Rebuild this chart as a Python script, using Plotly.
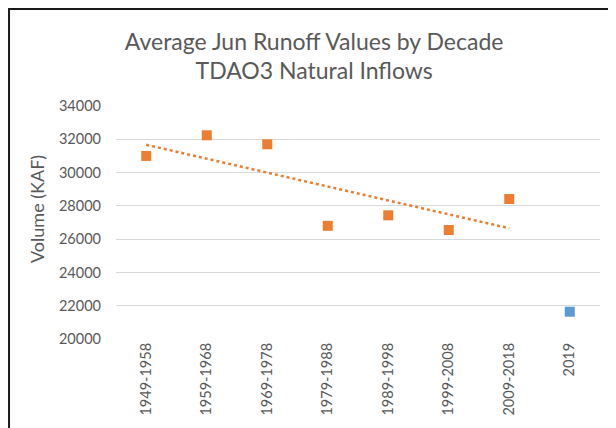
import numpy as np
import plotly.graph_objects as go

# values
decades = ["1949-1958", "1959-1968", "1969-1978", "1979-1988",
           "1989-1998", "1999-2008", "2009-2018"]
decade_avg = [31000, 32240, 31700, 26800, 27430, 26550, 28410]
recent_year = ["2019"]
recent_value = [21640]

orange = "#ED7D31"
blue = "#5B9BD5"
grey_txt = "#595959"
font_name = "Lato"

# linear trendline over the decade averages (like Excel's trendline)
idx = np.arange(len(decades))
slope, icept = np.polyfit(idx, decade_avg, 1)
trend = slope * idx + icept

fig = go.Figure()
fig.add_trace(go.Scatter(
    x=decades, y=decade_avg, mode="markers",
    marker=dict(symbol="square", size=10, color=orange, line=dict(width=0)),
    showlegend=False,
))
fig.add_trace(go.Scatter(
    x=decades, y=trend, mode="lines",
    line=dict(color=orange, width=2.5, dash="dot"),
    showlegend=False, hoverinfo="skip",
))
fig.add_trace(go.Scatter(
    x=recent_year, y=recent_value, mode="markers",
    marker=dict(symbol="square", size=10, color=blue, line=dict(width=0)),
    showlegend=False,
))

fig.update_layout(
    width=616, height=428,
    margin=dict(l=108, r=24, t=98, b=97),
    paper_bgcolor="white", plot_bgcolor="white",
    font=dict(family=font_name, color=grey_txt),
    title=dict(
        text="Average Jun Runoff Values by Decade<br>TDAO3 Natural Inflows",
        x=0.497, xanchor="center", xref="container",
        y=0.903, yanchor="middle", yref="container",
        font=dict(family=font_name, size=23, color=grey_txt),
    ),
    xaxis=dict(
        type="category", categoryorder="array",
        categoryarray=decades + recent_year,
        range=[-0.5, 7.5], showgrid=False, showline=False,
        zeroline=False, tickangle=-90,
        tickfont=dict(size=14.5, color=grey_txt),
        ticklabelstandoff=0,
    ),
    yaxis=dict(
        range=[20000, 34000], dtick=2000, tickformat="d",
        gridcolor="#D9D9D9", gridwidth=1, zeroline=False, showline=False,
        tickfont=dict(size=14.5, color=grey_txt),
        ticklabelstandoff=14,
    ),
    annotations=[dict(
        text="Volume (KAF)", textangle=-90, showarrow=False,
        xref="paper", yref="paper", x=-0.1632, y=0.558,
        xanchor="center", yanchor="middle",
        font=dict(family=font_name, size=18, color=grey_txt),
    )],
    shapes=[dict(
        type="rect", xref="paper", yref="paper",
        x0=-0.221, x1=1.5, y0=-1.0, y1=1.4163,
        line=dict(color="#1a1a1a", width=2),
        fillcolor="rgba(0,0,0,0)", layer="above",
    )],
)

fig.write_html("out.html")
